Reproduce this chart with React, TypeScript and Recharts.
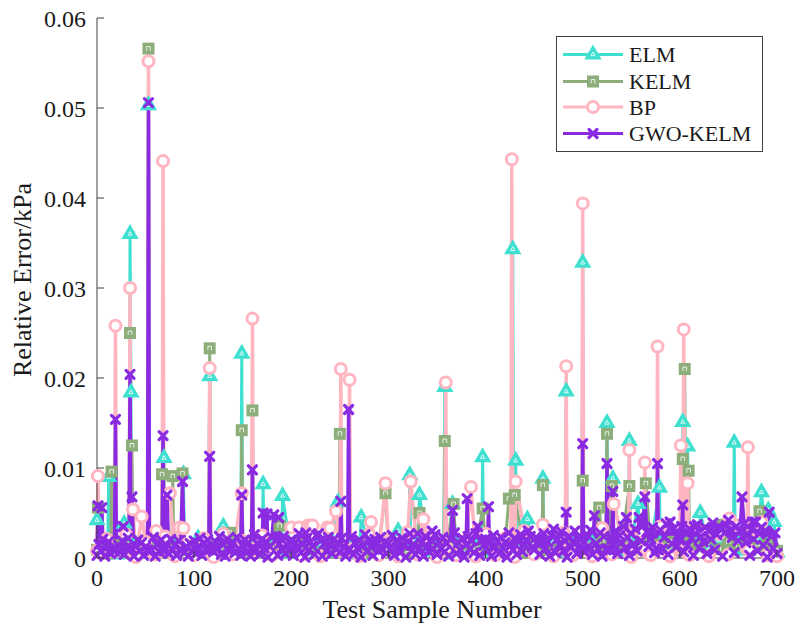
import { Legend, Line, LineChart, XAxis, YAxis } from "recharts";

const ELM_COLOR = "#40E0D0";
const KELM_COLOR = "#8DAE7B";
const BP_COLOR = "#FFB6C1";
const GWO_COLOR = "#8A2BE2";
const AXIS = "#404040";
const TEXT = "#1a1a1a";
const FONT = "Liberation Serif";

const seriesNames = ["ELM", "KELM", "BP", "GWO-KELM"];
const xTicks = [0, 100, 200, 300, 400, 500, 600, 700];
const yTicks = [0, 0.01, 0.02, 0.03, 0.04, 0.05, 0.06];
const UNIT = 1e-4; // values below are in units of 0.0001 kPa

// baseline: GWO-KELM one value every 2 samples, the others every 10 samples
const gwoBase = [
  3,15,8,21,2,12,18,5,10,24,1,14,7,19,4,11,22,6,16,2,13,20,8,17,3,
  12,4,18,9,23,2,15,7,20,1,11,17,5,21,9,14,3,19,10,25,6,13,2,16,8,
  19,5,12,22,3,16,9,20,1,14,7,18,11,24,4,15,2,21,8,13,17,6,23,10,3,
  14,20,6,17,2,12,26,9,15,4,21,11,18,1,13,23,7,19,3,16,10,24,5,14,8,
  20,3,17,12,27,6,15,1,22,9,18,13,4,25,11,19,2,16,8,23,14,5,21,10,17,
  6,22,13,2,18,9,24,4,16,11,20,1,14,26,7,19,12,3,21,15,8,23,10,17,5,
  16,9,25,3,19,12,6,22,14,1,18,27,8,15,4,21,11,17,2,24,13,7,20,10,26,
  4,18,11,23,7,16,2,21,13,28,5,17,9,22,1,15,24,10,19,6,27,12,3,20,14,
  21,8,16,2,25,13,19,5,23,11,17,1,28,14,9,22,4,18,26,7,15,20,3,24,12,
  9,23,16,4,20,27,11,18,2,25,13,6,21,15,29,8,19,1,24,12,17,30,5,22,14,
  19,7,26,13,31,4,22,16,10,28,2,24,18,33,9,21,14,30,5,25,17,35,11,23,3,
  27,15,32,8,24,19,36,2,29,13,21,34,6,26,17,31,10,23,38,4,28,16,33,12,25,
  20,35,7,29,14,32,22,3,27,37,11,24,18,34,5,30,21,39,9,26,15,33,2,28,36,
  13,31,23,6,35,19,29,10,38,17,25,3,32,21,40,8,27,34,14,30,1,36,24,11,28,
  5,
];
const elmBase = [
  6,12,4,10,15,5,11,8,13,4, 9,14,6,11,16,7,12,4,13,9, 5,12,8,16,6,10,14,4,11,8,
  13,6,9,15,7,11,4,17,9,12, 7,14,10,5,15,8,12,18,6,13, 9,16,7,14,11,19,8,13,16,10,
  14,9,18,12,20,11,16,8,19,13, 6,
];
const kelmBase = [
  9,5,14,7,11,16,6,12,4,10, 13,6,15,9,5,12,17,8,11,14, 7,15,10,5,13,18,9,12,6,14,
  10,16,5,12,19,8,13,7,15,11, 16,8,13,20,6,14,11,9,17,12, 14,10,19,8,16,12,21,9,15,18,
  11,17,13,22,10,18,14,20,12,16, 8,
];
const bpBase = [
  2,21,3,26,1,18,4,24,2,15, 3,22,1,27,4,19,2,25,3,16, 34,3,36,2,33,4,21,2,26,3,
  18,2,29,4,23,1,31,3,20,2, 27,3,22,1,30,4,24,2,28,3, 21,2,33,4,25,1,29,3,35,2,
  24,3,31,2,27,4,36,1,30,3, 2,
];

// [sample, error] peaks
const elmPeaks = [
  [0,42],[11,8],[12,90],[13,10],[28,38],[33,10],[34,360],[35,184],[36,12],[52,8],[53,503],[54,10],
  [68,9],[69,111],[70,11],[88,8],[89,93],[90,10],[104,22],[115,8],[116,202],[117,10],[130,35],
  [148,9],[149,227],[150,7],[170,9],[171,82],[172,8],[191,69],[248,62],[272,45],[310,30],
  [321,8],[322,92],[323,10],[332,70],[357,9],[358,190],[359,11],[366,60],[396,9],[397,112],[398,8],
  [427,8],[428,343],[429,10],[430,10],[431,108],[432,9],[443,43],[458,8],[459,88],[460,10],
  [482,9],[483,185],[484,11],[499,8],[500,328],[501,10],[524,9],[525,150],[526,11],[530,9],[531,88],[532,10],
  [547,8],[548,130],[549,10],[557,60],[579,78],[602,10],[603,151],[604,9],[607,10],[608,124],[609,12],
  [621,50],[655,9],[656,128],[657,10],[684,73],[691,53],[697,40],
];
const kelmPeaks = [
  [1,56],[14,8],[15,96],[16,10],[33,9],[34,250],[35,11],[36,125],[37,8],[52,10],[53,566],[54,8],
  [66,7],[67,93],[68,10],[77,9],[78,91],[79,8],[87,10],[88,94],[89,9],[115,9],[116,233],[117,11],[137,28],
  [148,10],[149,142],[150,8],[159,9],[160,164],[161,11],[188,36],[249,8],[250,138],[251,10],
  [297,72],[332,50],[357,10],[358,130],[359,8],[367,60],[397,55],[424,66],[430,70],
  [458,9],[459,81],[460,10],[499,9],[500,86],[501,11],[517,56],[524,10],[525,138],[526,8],
  [530,80],[548,80],[565,83],[602,9],[603,110],[604,8],[605,210],[606,10],[609,97],[644,37],[682,52],
];
const bpPeaks = [
  [0,8],[1,91],[2,6],[18,7],[19,258],[20,9],[33,8],[34,300],[35,10],[37,54],[46,46],
  [52,9],[53,552],[54,7],[61,30],[67,8],[68,441],[69,10],[75,72],[85,34],[89,33],
  [115,7],[116,211],[117,9],[149,72],[159,8],[160,266],[161,10],
  [208,34],[217,36],[222,36],[237,34],[246,52],[250,8],[251,210],[252,9],[259,10],[260,198],[261,8],
  [282,40],[297,83],[323,85],[336,43],[358,9],[359,195],[360,11],[385,79],
  [426,8],[427,443],[428,10],[431,85],[459,37],[482,10],[483,213],[484,8],
  [499,9],[500,394],[501,11],[532,60],[547,9],[548,120],[549,10],[563,8],[564,106],[565,10],
  [576,9],[577,235],[578,11],[600,10],[601,125],[602,9],[603,10],[604,254],[605,8],
  [608,83],[623,30],[627,30],[651,44],[669,10],[670,123],[671,9],[684,40],
];
const gwoPeaks = [
  [1,58],[5,56],[18,8],[19,154],[20,10],[27,35],[33,9],[34,204],[35,11],[36,68],
  [52,9],[53,506],[54,7],[67,10],[68,136],[69,8],[72,70],[88,85],[115,9],[116,113],[117,10],[149,70],
  [159,10],[160,98],[161,8],[171,50],[175,49],[182,48],[187,45],[215,28],[228,27],
  [251,63],[258,9],[259,165],[260,10],[330,27],[345,30],[366,53],[381,66],[392,35],[403,57],
  [444,30],[470,32],[483,51],[499,10],[500,127],[501,8],[512,47],[524,9],[525,105],[526,10],
  [531,74],[545,45],[558,45],[564,68],[576,10],[577,105],[578,9],
  [590,40],[603,59],[615,35],[640,35],[650,42],[664,68],[675,40],[692,51],
];

const toPoints = (base: number[], step: number, peaks: number[][]) => {
  const m = new Map<number, number>();
  base.forEach((v, i) => m.set(i * step, v));
  peaks.forEach(([s, v]) => m.set(s, v));
  return [...m.entries()].sort((a, b) => a[0] - b[0]).map(([x, v]) => ({ x, y: v * UNIT }));
};

const elmData = toPoints(elmBase, 10, elmPeaks);
const kelmData = toPoints(kelmBase, 10, kelmPeaks);
const bpData = toPoints(bpBase, 10, bpPeaks);
const gwoData = toPoints(gwoBase, 2, gwoPeaks);

function TriangleMark({ cx, cy }: { cx: number; cy: number }) {
  return (
    <g>
      <polygon points={`${cx},${cy - 10} ${cx + 8.7},${cy + 5} ${cx - 8.7},${cy + 5}`} fill={ELM_COLOR} />
      <polygon points={`${cx},${cy - 2.5} ${cx + 2},${cy + 1.2} ${cx - 2},${cy + 1.2}`} fill="none" stroke="#fff" strokeWidth={0.8} />
    </g>
  );
}

function SquareMark({ cx, cy }: { cx: number; cy: number }) {
  return (
    <g>
      <rect x={cx - 6} y={cy - 6} width={12} height={12} fill={KELM_COLOR} />
      <path d={`M${cx - 1.8},${cy + 2} V${cy - 2} H${cx + 1.8} V${cy + 2}`} fill="none" stroke="#fff" strokeWidth={0.8} />
    </g>
  );
}

function CircleMark({ cx, cy }: { cx: number; cy: number }) {
  return <circle cx={cx} cy={cy} r={5.5} fill="#fff" stroke={BP_COLOR} strokeWidth={3} />;
}

function CrossMark({ cx, cy }: { cx: number; cy: number }) {
  return (
    <g stroke={GWO_COLOR} strokeWidth={3.2} strokeLinecap="round">
      <line x1={cx - 4} y1={cy - 4} x2={cx + 4} y2={cy + 4} />
      <line x1={cx - 4} y1={cy + 4} x2={cx + 4} y2={cy - 4} />
    </g>
  );
}

const markers = [TriangleMark, SquareMark, CircleMark, CrossMark];
const colors = [ELM_COLOR, KELM_COLOR, BP_COLOR, GWO_COLOR];

const dotFor = (Mark: typeof TriangleMark) => (p: any) => <Mark key={p.index} cx={p.cx} cy={p.cy} />;

function BottomTick({ x, y, payload }: any) {
  return (
    <g>
      <line x1={x} y1={y} x2={x} y2={y - 7} stroke={AXIS} />
      <text x={x} y={y + 28} textAnchor="middle" fontSize={24} fontFamily={FONT} fill={TEXT}>{payload.value}</text>
    </g>
  );
}

function LeftTick({ x, y, payload }: any) {
  return (
    <g>
      <line x1={x} y1={y} x2={x + 7} y2={y} stroke={AXIS} />
      <text x={x - 11} y={y + 8.5} textAnchor="end" fontSize={24} fontFamily={FONT} fill={TEXT}>{payload.value}</text>
    </g>
  );
}

const TopTick = ({ x, y }: any) => <line x1={x} y1={y} x2={x} y2={y + 7} stroke={AXIS} />;
const RightTick = ({ x, y }: any) => <line x1={x} y1={y} x2={x - 7} y2={y} stroke={AXIS} />;

const XTitle = () => (
  <text x={432} y={618} textAnchor="middle" fontSize={26} fontFamily={FONT} fill={TEXT}>Test Sample Number</text>
);

const YTitle = () => (
  <text x={31} y={280} transform="rotate(-90 31 280)" textAnchor="middle" fontSize={26} fontFamily={FONT} fill={TEXT}>
    Relative Error/kPa
  </text>
);

function LegendBox() {
  const rows = [18.5, 45.5, 71, 97.5];
  return (
    <svg width={208} height={117} style={{ display: "block" }}>
      <rect x={0.5} y={0.5} width={206} height={115} fill="#fff" stroke={AXIS} />
      {seriesNames.map((name, i) => {
        const Mark = markers[i];
        return (
          <g key={name}>
            <line x1={7} y1={rows[i]} x2={67} y2={rows[i]} stroke={colors[i]} strokeWidth={3} />
            <Mark cx={37} cy={rows[i]} />
            <text x={73} y={rows[i] + 7.5} fontSize={22} fontFamily={FONT} fill={TEXT}>{name}</text>
          </g>
        );
      })}
    </svg>
  );
}

export default function App() {
  return (
    <div style={{ position: "absolute", left: 0, top: 0, width: 800, height: 631, background: "#fff" }}>
      <LineChart width={800} height={631} margin={{ top: 18, right: 23, bottom: 0, left: 0 }}>
        <XAxis xAxisId="b" dataKey="x" type="number" domain={[0, 700]} ticks={xTicks} interval={0} height={73}
          tickSize={0} tickMargin={0} tickLine={false} tick={<BottomTick />} axisLine={{ stroke: AXIS }}
          label={{ content: XTitle }} />
        <XAxis xAxisId="t" orientation="top" type="number" domain={[0, 700]} ticks={xTicks} interval={0} height={0}
          tickSize={0} tickMargin={0} tickLine={false} tick={<TopTick />} axisLine={{ stroke: AXIS }} />
        <YAxis yAxisId="l" type="number" domain={[0, 0.06]} ticks={yTicks} interval={0} width={97}
          tickSize={0} tickMargin={0} tickLine={false} tick={<LeftTick />} axisLine={{ stroke: AXIS }}
          label={{ content: YTitle }} />
        <YAxis yAxisId="r" orientation="right" type="number" domain={[0, 0.06]} ticks={yTicks} interval={0} width={0}
          tickSize={0} tickMargin={0} tickLine={false} tick={<RightTick />} axisLine={{ stroke: AXIS }} />
        <Legend layout="vertical" align="center" verticalAlign="middle" content={<LegendBox />}
          wrapperStyle={{ left: 556, top: 36, width: 208, height: 117 }} />
        <Line data={elmData} xAxisId="b" yAxisId="l" dataKey="y" name="ELM" stroke={ELM_COLOR} strokeWidth={3}
          dot={dotFor(TriangleMark)} activeDot={false} isAnimationActive={false} />
        <Line data={kelmData} xAxisId="b" yAxisId="l" dataKey="y" name="KELM" stroke={KELM_COLOR} strokeWidth={3}
          dot={dotFor(SquareMark)} activeDot={false} isAnimationActive={false} />
        <Line data={bpData} xAxisId="b" yAxisId="l" dataKey="y" name="BP" stroke={BP_COLOR} strokeWidth={3.5}
          dot={dotFor(CircleMark)} activeDot={false} isAnimationActive={false} />
        <Line data={gwoData} xAxisId="b" yAxisId="l" dataKey="y" name="GWO-KELM" stroke={GWO_COLOR} strokeWidth={3.5}
          dot={dotFor(CrossMark)} activeDot={false} isAnimationActive={false} />
      </LineChart>
    </div>
  );
}
